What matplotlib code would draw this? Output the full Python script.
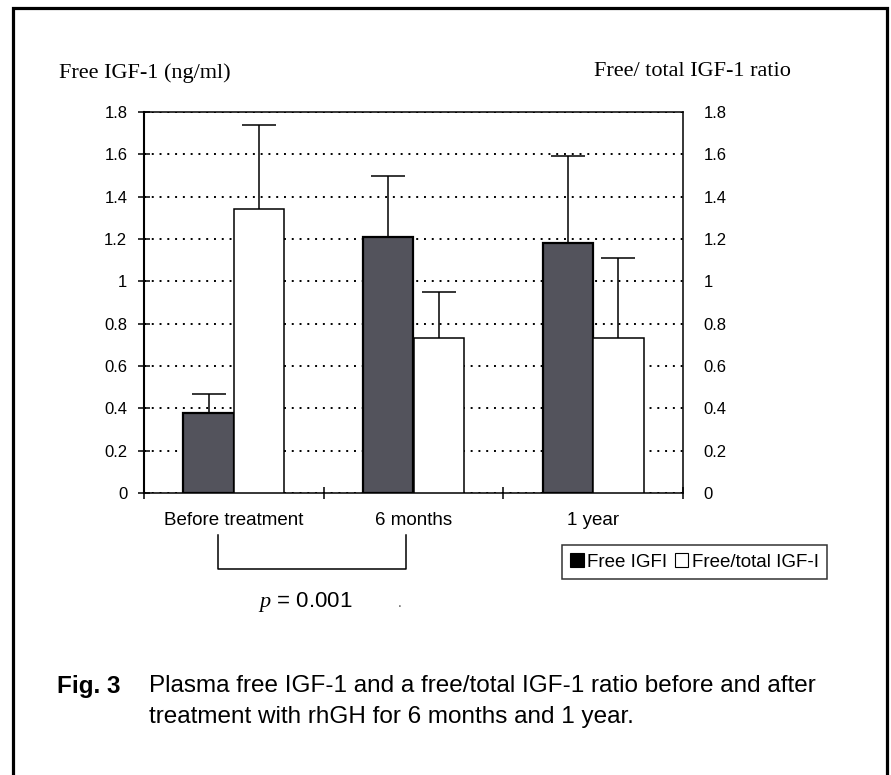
import matplotlib
matplotlib.use("Agg")
import matplotlib.pyplot as plt
import numpy as np
from matplotlib.patches import Rectangle, Patch
from matplotlib.lines import Line2D
import matplotlib.transforms as mtransforms

# ---- data ----
categories = ["Before treatment", "6 months", "1 year"]
free_igf1 = [0.38, 1.21, 1.18]
free_igf1_err = [0.09, 0.29, 0.41]
ratio = [1.34, 0.73, 0.73]
ratio_err = [0.40, 0.22, 0.38]
y_ticks = [0, 0.2, 0.4, 0.6, 0.8, 1.0, 1.2, 1.4, 1.6, 1.8]
y_tick_labels = ["0", "0.2", "0.4", "0.6", "0.8", "1", "1.2", "1.4", "1.6", "1.8"]
series_names = ["Free IGFI", "Free/total IGF-I"]
left_label = "Free IGF-1 (ng/ml)"
right_label = "Free/ total IGF-1 ratio"
p_text = "$p$ = 0.001"
caption_head = "Fig. 3"
caption_body = ("Plasma free IGF-1 and a free/total IGF-1 ratio before and after\n"
                "treatment with rhGH for 6 months and 1 year.")

plt.rcParams["font.family"] = ["Liberation Sans", "DejaVu Sans"]
plt.rcParams["mathtext.fontset"] = "custom"
plt.rcParams["mathtext.it"] = "Liberation Serif:italic"
plt.rcParams["mathtext.rm"] = "Liberation Serif"

W, H = 891, 775
fig = plt.figure(figsize=(W / 100, H / 100), dpi=100)
fig.patch.set_facecolor("white")

def fx(px):
    return px / W

def fy(py):
    return 1 - py / H

ax = fig.add_axes([fx(144), fy(493), fx(683) - fx(144), fy(112) - fy(493)])
x = np.arange(len(categories))
bw = 0.281
dark = "#53535c"

ax.bar(x - bw / 2, free_igf1, width=bw, color=dark, edgecolor="black",
       linewidth=1.6, zorder=3, label=series_names[0])
ax.bar(x + bw / 2, ratio, width=bw, color="white", edgecolor="black",
       linewidth=1.1, zorder=3, label=series_names[1])

# upper-only error bars
for xs, vals, errs in [(x - bw / 2, free_igf1, free_igf1_err),
                       (x + bw / 2, ratio, ratio_err)]:
    vals = np.asarray(vals)
    tops = vals + np.asarray(errs)
    ax.vlines(xs, vals, tops, color="black", linewidth=1.1, zorder=4)
    ax.plot(xs, tops, linestyle="none", marker="_", markersize=25,
            markeredgewidth=1.1, color="black", zorder=4)

ax.set_xlim(-0.5, 2.5)
ax.set_ylim(0, 1.8)
ax.set_yticks(y_ticks)
ax.set_yticklabels(y_tick_labels)
ax.yaxis.grid(True, linestyle=(0, (1, 3)), color="black", linewidth=1.4)
ax.set_axisbelow(True)
ax.tick_params(axis="y", direction="inout", length=8, width=1.1, pad=8,
               labelsize=12, colors="black")

ax.set_xticks(np.arange(-0.5, 3.0, 1.0))
ax.set_xticklabels([])
ax.tick_params(axis="x", which="major", direction="inout", length=9, width=1.1)
ax.set_xticks(x, minor=True)
ax.set_xticklabels(categories, minor=True)
ax.tick_params(axis="x", which="minor", length=0, pad=14, labelsize=13.5)

for s in ax.spines.values():
    s.set_linewidth(1.1)
    s.set_color("black")
ax.spines["left"].set_linewidth(1.5)

ax2 = ax.twinx()
ax2.set_ylim(0, 1.8)
ax2.set_yticks(y_ticks)
ax2.set_yticklabels(y_tick_labels)
ax2.tick_params(axis="y", length=0, pad=15, labelsize=12)
for s in ax2.spines.values():
    s.set_visible(False)

# axis titles
fig.text(fx(59), fy(78), left_label, family="Liberation Serif", fontsize=16,
         ha="left", va="baseline")
fig.text(fx(791), fy(76), right_label, family="Liberation Serif", fontsize=16,
         ha="right", va="baseline")

# legend
handles = [Patch(facecolor="black", edgecolor="black", linewidth=0.8),
           Patch(facecolor="white", edgecolor="black", linewidth=0.8)]
leg = fig.legend(handles, series_names, loc="upper left",
                 bbox_to_anchor=(fx(562), fy(545)), ncol=2, fontsize=13.5,
                 handlelength=0.7, handleheight=0.7, handletextpad=0.2,
                 columnspacing=0.4, borderpad=0.45, borderaxespad=0,
                 frameon=True, fancybox=False)
leg.get_frame().set_edgecolor("black")
leg.get_frame().set_linewidth(1.1)

# significance bracket
trans = mtransforms.blended_transform_factory(ax.transData, fig.transFigure)
bx0, bx1 = -0.09, 0.96
ax.add_line(Line2D([bx0, bx0, bx1, bx1], [fy(535), fy(569), fy(569), fy(535)],
                   transform=trans, color="black", linewidth=1.1, clip_on=False))
fig.text(fx(305), fy(602), p_text, fontsize=16, ha="center", va="center")
fig.text(fx(400), fy(603), ".", fontsize=10, ha="center", va="center", color="#555555")

# caption
fig.text(fx(57), fy(686), caption_head, fontsize=17.5, fontweight="bold",
         ha="left", va="center")
fig.text(fx(149), fy(675), caption_body, fontsize=17.5, ha="left", va="top",
         linespacing=1.55)

# outer frame
fig.patches.append(Rectangle((fx(13), -0.02), fx(887) - fx(13), fy(8) + 0.02,
                             transform=fig.transFigure, fill=False,
                             edgecolor="black", linewidth=2.3))

fig.savefig("out.png", dpi=100)
